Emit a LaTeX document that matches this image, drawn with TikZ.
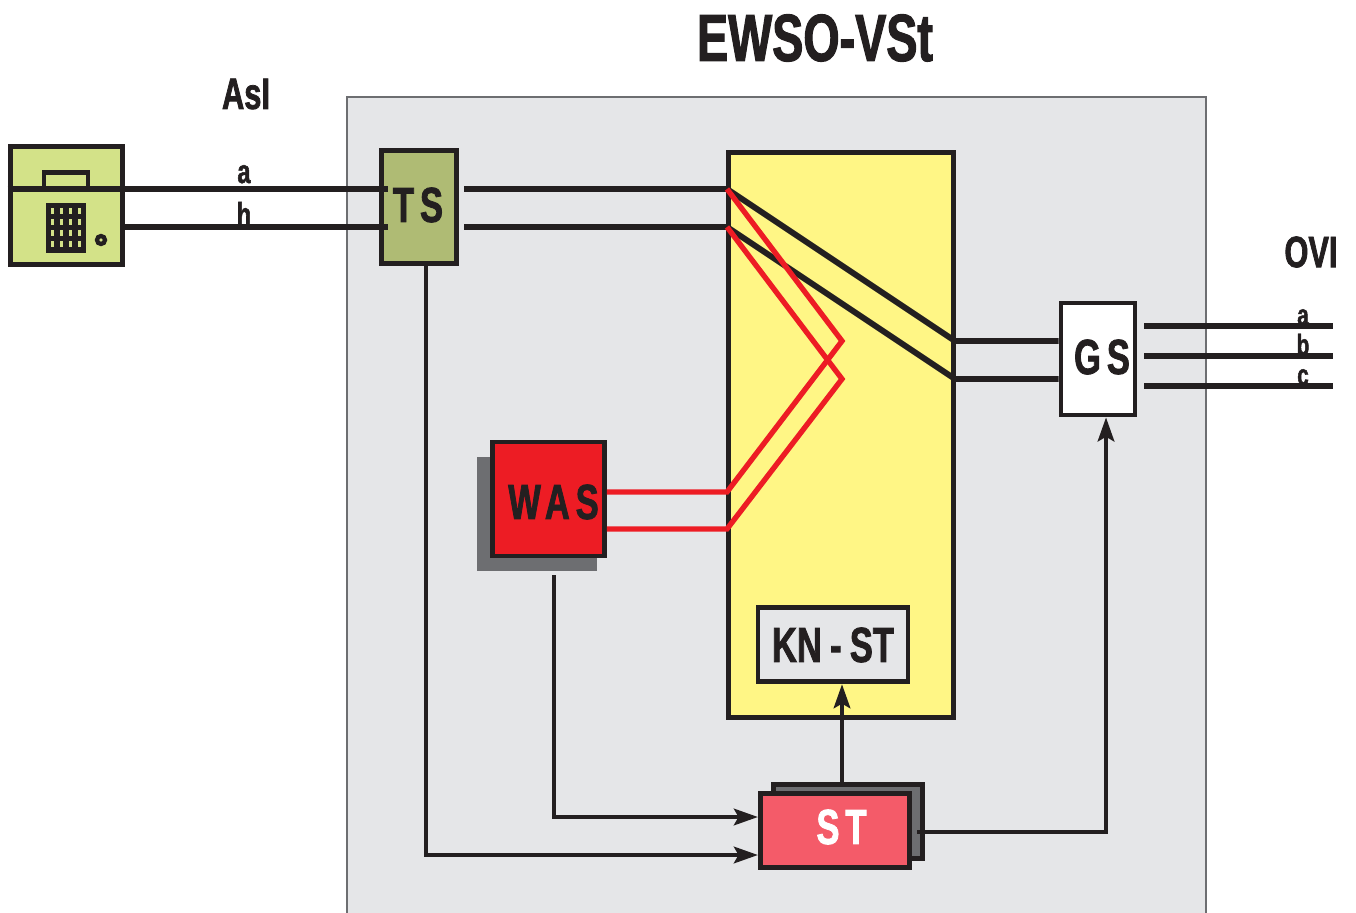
\documentclass[tikz,border=0pt]{standalone}
\usepackage{fontspec}
\usepackage{xcolor}
\setmainfont[FakeStretch=0.7, BoldFeatures={FakeBold=1.6}]{Liberation Sans}
\usetikzlibrary{
  arrows.meta,
  positioning
}
\definecolor{ewsoPanel}{HTML}{E5E6E8}
\definecolor{ewsoEdge}{HTML}{231F20}
\definecolor{ewsoShade}{HTML}{6D6E71}
\definecolor{ewsoPhone}{HTML}{D3E288}
\definecolor{ewsoTS}{HTML}{AFBB74}
\definecolor{ewsoField}{HTML}{FFF685}
\definecolor{ewsoWAS}{HTML}{ED1C24}
\definecolor{ewsoST}{HTML}{F45B69}
\tikzset{
  block/.style={draw=ewsoEdge, line width=3.7pt, inner sep=0pt},
  shade/.style={fill=ewsoShade, inner sep=0pt},
  wire/.style={line width=4.4pt, ewsoEdge},
  redwire/.style={line width=4pt, ewsoWAS, line join=miter},
  ctrl/.style={line width=2.7pt, ewsoEdge},
  ctrlarrow/.style={ctrl, -{Stealth[length=18pt, width=12.5pt, inset=3.5pt]}},
  title/.style={font=\fontsize{#1}{#1}\bfseries, text=ewsoEdge, inner sep=0pt},
  tag/.style={font=\fontsize{37}{37}\bfseries\addfontfeature{LetterSpace=12}, text=ewsoEdge, inner sep=0pt}
}

\begin{document}
\begin{tikzpicture}[x=0.75pt, y=-0.75pt]
  \useasboundingbox (0,0) rectangle (1356,913);

  % panel and titles
  \fill[ewsoPanel] (347,97) rectangle (1206,913);
  \draw[ewsoShade, line width=0.9pt] (347,913) -- (347,97) -- (1206,97) -- (1206,913);
  \node[title=50] (ewso) at (815,38) {EWSO-VSt};
  \node[title=33] (asl) at (246,94) {AsI};
  \node[title=33] (ovi) at (1311,252) {OVI};

  % blocks
  \node[block, fill=ewsoPhone, minimum width=84.5pt, minimum height=88pt] (phone) at (66.5,205.5) {};
  \node[block, fill=ewsoTS, minimum width=56.5pt, minimum height=85pt] (ts) at (419,207) {};
  \node[block, fill=ewsoField, minimum width=168.5pt, minimum height=423.5pt] (field) at (841,435) {};
  \node[block, fill=white, minimum width=55.5pt, minimum height=84pt] (gs) at (1098,359) {};
  \node[shade, minimum width=90pt, minimum height=85.5pt] (wasshade) at (537,514) {};
  \node[block, fill=ewsoWAS, minimum width=84pt, minimum height=85.5pt] (was) at (548.5,499) {};
  \node[block, fill=ewsoPanel, minimum width=112.5pt, minimum height=56pt] (knst) at (833,644.5) {};
  \node[block, fill=ewsoShade, minimum width=112pt, minimum height=56pt] (stshade) at (848,821.5) {};
  \node[block, fill=ewsoST, minimum width=112pt, minimum height=55pt] (st) at (835,830.5) {};

  % block names
  \node[tag] (tstext) at (418,205) {TS};
  \node[tag] (gstext) at (1102,357) {GS};
  \node[tag] (wastext) at (553.5,502) {WAS};
  \node[tag, font=\fontsize{37}{37}\bfseries] (knsttext) at (833,645) {KN\,-\,ST};
  \node[tag, text=white] (sttext) at (841.5,827) {ST};

  % phone details
  \node[draw=ewsoEdge, fill=ewsoPhone, line width=3.4pt, minimum width=33pt, minimum height=12pt, inner sep=0pt] (handle) at (66,180.5) {};
  \node[fill=ewsoEdge, minimum width=30pt, minimum height=37.5pt, inner sep=0pt] (keypad) at (66,228) {};
  \foreach \x in {52,61,70,79}
    \foreach \y in {211,222,233,244}
      \fill[ewsoPhone] (\x-1.5,\y-3) rectangle (\x+1.5,\y+3);
  \node[circle, draw=ewsoEdge, fill=ewsoPhone, line width=3.2pt, minimum size=6pt, inner sep=0pt] (dot) at (101,240) {};

  % subscriber line
  \coordinate (tsa) at (388,189);
  \coordinate (tsb) at (388,227);
  \draw[wire] (phone.west |- tsa) -- (tsa);
  \draw[wire] (phone.east |- tsb) -- (tsb);
  \node[title=25, anchor=base] (la) at (244,183) {a};
  \node[title=25, anchor=base] (lb) at (244,226) {h};

  % through connection
  \coordinate (ina) at (727,189);
  \coordinate (inb) at (727,227);
  \coordinate (outa) at (955,341);
  \coordinate (outb) at (955,379);
  \coordinate (fromts) at (464,189);
  \coordinate (fromtsb) at (464,227);
  \draw[wire] (fromts) -- (ina) -- (outa) -- (gs.west |- outa);
  \draw[wire] (fromtsb) -- (inb) -- (outb) -- (gs.west |- outb);

  % ringing feed
  \coordinate (tipa) at (842,341);
  \coordinate (tipb) at (842,379);
  \coordinate (feeda) at (727,492);
  \coordinate (feedb) at (727,529);
  \draw[redwire] (was.east |- feeda) -- (feeda) -- (tipa) -- (ina);
  \draw[redwire] (was.east |- feedb) -- (feedb) -- (tipb) -- (inb);

  % outgoing line
  \foreach \y/\name/\base in {326/a/325, 356/b/355, 386/c/385} {
    \draw[wire] (1144,\y) -- (1333,\y);
    \node[title=22, anchor=base] at (1303,\base) {\name};
  }

  % control paths
  \coordinate (wasout) at (554,575);
  \coordinate (wasbend) at (554,817);
  \coordinate (tsbend) at (426,855);
  \coordinate (stout) at (917,832);
  \coordinate (gsbend) at (1106,832);
  \draw[ctrlarrow] (wasout) -- (wasbend) -- (st.west |- wasbend);
  \draw[ctrlarrow] (ts.south -| tsbend) -- (tsbend) -- (st.west |- tsbend);
  \draw[ctrlarrow] (stout) -- (gsbend) -- (gs.south -| gsbend);
  \draw[ctrlarrow] (stshade.north -| 842,0) -- (knst.south -| 842,0);
\end{tikzpicture}
\end{document}
